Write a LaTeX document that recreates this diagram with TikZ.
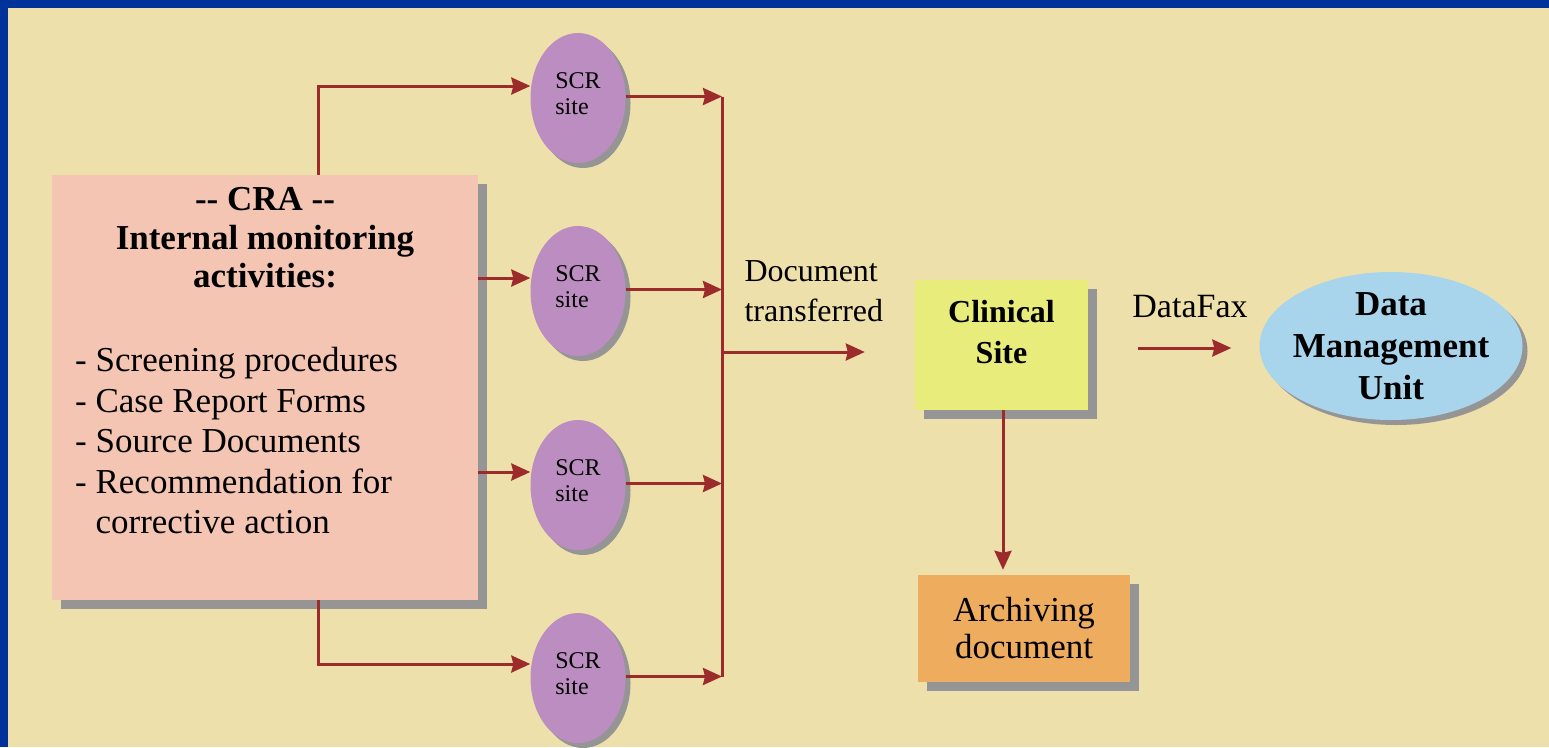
\documentclass[tikz,border=0pt]{standalone}
\usepackage{fontspec}
\setmainfont{Liberation Serif}
\usetikzlibrary{arrows.meta,shapes.geometric,shadows}

\definecolor{frameblue}{HTML}{003399}
\definecolor{slidebg}{HTML}{EEE0AB}
\definecolor{crapink}{HTML}{F5C5B3}
\definecolor{scrpurple}{HTML}{BC8DC0}
\definecolor{clinyellow}{HTML}{E8EC7A}
\definecolor{archorange}{HTML}{EEAC5E}
\definecolor{dmublue}{HTML}{A8D4EC}
\definecolor{shadowgray}{HTML}{959595}
\definecolor{arrowred}{HTML}{9C2B2B}

\tikzset{
  boxshadow/.style={drop shadow={shadow xshift=9pt,shadow yshift=-9pt,fill=shadowgray,opacity=1}},
  ovalshadow/.style={drop shadow={shadow xshift=5pt,shadow yshift=-5pt,fill=shadowgray,opacity=1}},
  scrsite/.style={ellipse,fill=scrpurple,ovalshadow,minimum width=95pt,minimum height=130pt,inner sep=0pt},
  flowline/.style={draw=arrowred,line width=3pt},
  flowarrow/.style={flowline,-{Stealth[length=19pt,width=17pt,inset=2pt]}},
}

\begin{document}
\begin{tikzpicture}[x=1pt,y=-1pt]
        \fill[frameblue] (0,0) rectangle (1549,747);
        \fill[slidebg] (8,8) rectangle (1549,747);
        \useasboundingbox (0,0) rectangle (1549,747);
        % CRA block
        \node[rectangle,fill=crapink,boxshadow,minimum width=426pt,minimum height=425pt] (cra) at (265,387.5) {};
        \node[font=\fontsize{35}{38.5}\bfseries\selectfont,align=center] (crahead) at (265,238) {-{}- CRA -{}-\\Internal monitoring\\activities:};
        \node[font=\fontsize{35}{40.5}\selectfont,align=left,anchor=north west,inner sep=0pt] (cralist) at (75,347.5) {- Screening procedures\\- Case Report Forms\\- Source Documents\\- Recommendation for\\\hphantom{-\ }corrective action};
        % SCR sites
        \foreach \i/\y in {1/98,2/291,3/485,4/678}
            \node[scrsite,label={[font=\fontsize{24}{26}\selectfont,align=left,yshift=4pt]center:SCR\\site}] (scr\i) at (578,\y) {};
        \draw[flowarrow] ([xshift=53pt]cra.north) |- ([yshift=12pt]scr1.west);
        \draw[flowarrow] ([yshift=13pt]scr2.west -| cra.east) -- ([yshift=13pt]scr2.west);
        \draw[flowarrow] ([yshift=13pt]scr3.west -| cra.east) -- ([yshift=13pt]scr3.west);
        \draw[flowarrow] ([xshift=53pt]cra.south) |- ([yshift=14pt]scr4.west);
        % collecting line
        \coordinate (bustop) at (722,97);
        \coordinate (busbot) at (722,677);
        \draw[flowline] (bustop) -- (busbot);
        \foreach \i in {1,...,4}
            \draw[flowarrow] ([yshift=1.5pt]scr\i.east) -- ([yshift=1.5pt]scr\i.east -| bustop);
        % clinical site and the rest
        \node[rectangle,fill=clinyellow,boxshadow,minimum width=173pt,minimum height=130pt,label={[font=\fontsize{32}{41}\bfseries\selectfont,align=center,yshift=13pt]center:Clinical\\Site}] (clin) at (1001.5,345) {};
        \node[font=\fontsize{32}{40}\selectfont,align=left,anchor=west] (doclabel) at (741,291) {Document\\transferred};
        \draw[flowarrow] ([yshift=-7pt]clin.west -| bustop) -- ([xshift=-50pt,yshift=-7pt]clin.west);
        \node[rectangle,fill=archorange,boxshadow,minimum width=212pt,minimum height=107pt,font=\fontsize{35}{37}\selectfont,align=center] (arch) at (1024,628.5) {Archiving\\document};
        \draw[flowarrow,shorten >=5pt] ([xshift=1.5pt]clin.south) -- ([xshift=1.5pt]clin.south |- arch.north);
        \node[ellipse,fill=dmublue,ovalshadow,minimum width=263pt,minimum height=148pt,inner sep=0pt,label={[font=\fontsize{35}{42}\bfseries\selectfont,align=center]center:Data\\Management\\Unit}] (dmu) at (1391,346) {};
        \draw[flowarrow] ([xshift=50pt,yshift=-3pt]clin.east) -- ([xshift=-28pt,yshift=-2pt]dmu.west);
        \node[font=\fontsize{34}{40}\selectfont] (faxlabel) at (1190,307) {DataFax};
\end{tikzpicture}
\end{document}
